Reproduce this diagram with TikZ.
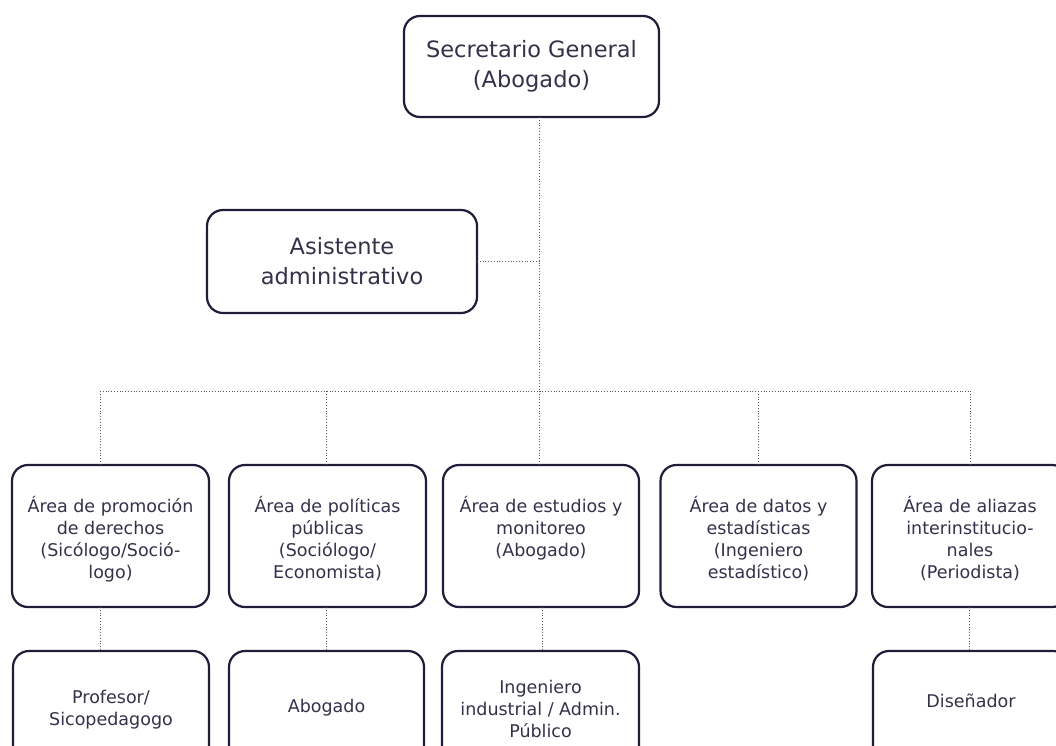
\documentclass[tikz,border=0pt]{standalone}
\usepackage{fontspec}
\setmainfont{DejaVu Sans}
\definecolor{navy}{HTML}{1F1D3A}
\definecolor{txt}{HTML}{33324A}
\begin{document}
\begin{tikzpicture}[x=1pt,y=-1pt,
  box/.style={draw=navy, line width=2.2pt, rounded corners=16pt, inner sep=0pt, outer sep=0pt},
  big/.style={align=center, text=txt, inner sep=0pt, font=\fontsize{22.5}{30}\selectfont},
  lbl/.style={align=center, text=txt, inner sep=0pt, font=\fontsize{17.5}{22}\selectfont},
  conn/.style={draw=black!65, dotted, line width=0.8pt}]
\useasboundingbox (0,0) rectangle (1056,745);
\clip (0,0) rectangle (1056,745);
% top
\node[box, minimum width=255pt, minimum height=101pt] (sg) at (531.5,66.5) {};
\node[big] (sgt) at (531.5,66) {Secretario General\\(Abogado)};
\node[box, minimum width=270pt, minimum height=103pt] (aa) at (342,261.5) {};
\node[big] (aat) at (342,261) {Asistente\\administrativo};
% row 1
\node[box, minimum width=197pt, minimum height=142pt] (r1) at (110.5,536) {};
\node[box, minimum width=197pt, minimum height=142pt] (r2) at (327.5,536) {};
\node[box, minimum width=196pt, minimum height=142pt] (r3) at (541,536) {};
\node[box, minimum width=196pt, minimum height=142pt] (r4) at (758.5,536) {};
\node[box, minimum width=196pt, minimum height=142pt] (r5) at (970,536) {};
\node[lbl, anchor=north] (r1t) at (110.5,496.5) {Área de promoción\\de derechos\\(Sicólogo/Soció-\\logo)};
\node[lbl, anchor=north] (r2t) at (327.5,496.5) {Área de políticas\\públicas\\(Sociólogo/\\Economista)};
\node[lbl, anchor=north] (r3t) at (541,496.5) {Área de estudios y\\monitoreo\\(Abogado)};
\node[lbl, anchor=north] (r4t) at (758.5,496.5) {Área de datos y\\estadísticas\\(Ingeniero\\estadístico)};
\node[lbl, anchor=north] (r5t) at (970,496.5) {Área de aliazas\\interinstitucio-\\nales\\(Periodista)};
% row 2
\node[box, minimum width=196pt, minimum height=114pt] (s1) at (111,708) {};
\node[box, minimum width=195pt, minimum height=114pt] (s2) at (326.5,708) {};
\node[box, minimum width=197pt, minimum height=114pt] (s3) at (540.5,708) {};
\node[box, minimum width=196pt, minimum height=114pt] (s5) at (971,708) {};
\node[lbl] (s1t) at (111,710) {Profesor/\\Sicopedagogo};
\node[lbl] (s2t) at (326.5,708) {Abogado};
\node[lbl] (s3t) at (540.5,709) {Ingeniero\\industrial / Admin.\\Público};
\node[lbl] (s5t) at (971,701) {Diseñador};
% connectors
\coordinate (trunk) at (539,391);
\coordinate (b1) at (100,391);
\coordinate (b2) at (326,391);
\coordinate (b4) at (758,391);
\coordinate (b5) at (970,391);
\draw[conn] (sg.south -| trunk) -- (trunk);
\draw[conn] (aa.east) -- (aa.east -| trunk);
\draw[conn] (b1) -- (b5);
\draw[conn] (b1) -- (b1 |- r1.north);
\draw[conn] (b2) -- (b2 |- r2.north);
\draw[conn] (trunk) -- (trunk |- r3.north);
\draw[conn] (b4) -- (b4 |- r4.north);
\draw[conn] (b5) -- (b5 |- r5.north);
\draw[conn] (r1.south -| b1) -- (s1.north -| b1);
\draw[conn] (r2.south -| s2) -- (s2.north);
\draw[conn] (r3.south -| 542,0) -- (s3.north -| 542,0);
\draw[conn] (r5.south -| 969,0) -- (s5.north -| 969,0);
\end{tikzpicture}
\end{document}
